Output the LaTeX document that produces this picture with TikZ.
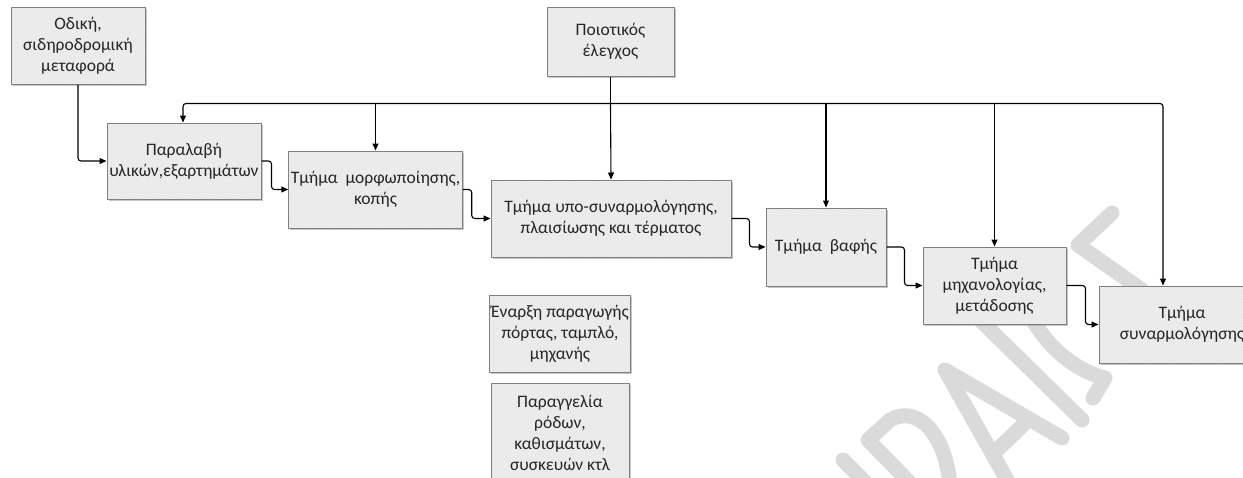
\documentclass[tikz,border=0pt]{standalone}
\usepackage{fontspec}
\setmainfont{Carlito}
\usetikzlibrary{arrows.meta,shadows,patterns}
\definecolor{wmgray}{RGB}{218,218,218}
\definecolor{boxfill}{RGB}{239,239,239}
\definecolor{boxedge}{RGB}{128,128,128}
\definecolor{hatch}{RGB}{228,228,228}
\tikzset{
  box/.style={draw=boxedge, line width=1pt, align=center,
    inner sep=2pt, font=\fontsize{17.5}{21}\selectfont, text=black!85,
    drop shadow={shadow xshift=1.5pt, shadow yshift=-1.5pt, fill=black!45, opacity=0.5},
    preaction={fill=boxfill},
    preaction={pattern=north east lines, pattern color=hatch}},
  conn/.style={draw=black, line width=1.1pt, rounded corners=3pt,
    -{Triangle[length=7pt,width=6pt]}},
  plain/.style={draw=black, line width=1.1pt, rounded corners=3pt},
  wm/.style={draw=wmgray, line width=15pt, line cap=round, line join=round}
}
\begin{document}
\begin{tikzpicture}[x=1pt,y=-1pt]
\useasboundingbox (0,0) rectangle (1243,477);
% watermark strokes
\draw[wm] (1112,213) -- (1078,245) -- (1142,290);
\draw[wm] (1025,305) .. controls (1045,350) and (1080,372) .. (1105,378) -- (1093,398);
\draw[wm] (965,305) -- (1082,420);
\draw[wm] (1010,485) -- (945,370) -- (1062,438);
\draw[wm] (995,452) -- (1023,425);
\draw[wm] (912,485) -- (868,440) -- (890,420) .. controls (915,405) and (945,430) .. (950,485);
\draw[wm] (843,460) -- (868,485);
% boxes
\node[box, minimum width=134pt, minimum height=77pt] (odiki) at (78,45.5) {Οδική,\\σιδηροδρομική\\μεταφορά};
\node[box, minimum width=154pt, minimum height=76pt] (paral) at (184,161) {Παραλαβή\\υλικών,εξαρτημάτων};
\node[box, minimum width=173pt, minimum height=77pt] (morf) at (375.5,189.5) {Τμήμα~ μορφωποίησης,\\κοπής};
\node[box, minimum width=127pt, minimum height=69pt] (poiot) at (610.5,41.5) {Ποιοτικός\\έλεγχος};
\node[box, minimum width=240pt, minimum height=77pt] (ypo) at (611,218.5) {Τμήμα υπο-συναρμολόγησης,\\πλαισίωσης και τέρματος};
\node[box, minimum width=120pt, minimum height=78pt] (vafis) at (826,247) {Τμήμα~ βαφής};
\node[box, minimum width=143pt, minimum height=77pt] (mich) at (994.5,285.5) {Τμήμα\\μηχανολογίας,\\μετάδοσης};
\node[box, minimum width=166pt, minimum height=77pt] (synarm) at (1182,324.5) {Τμήμα\\συναρμολόγησης};
\node[box, minimum width=138pt, minimum height=77pt] (enarxi) at (560,333.5) {Έναρξη παραγωγής\\πόρτας, ταμπλό,\\μηχανής};
\node[box, minimum width=138pt, minimum height=100pt] (parag) at (560,433) {Παραγγελία\\ρόδων,\\καθισμάτων,\\συσκευών κτλ};
% flow connectors
\draw[conn] (odiki.south) |- (paral.west);
\draw[conn] (paral.east) -- ++(10,0) |- (morf.west);
\draw[conn] (morf.east) -- ++(9,0) |- (ypo.west);
\draw[conn] (ypo.east) -- ++(18,0) |- (vafis.west);
\draw[conn] (vafis.east) -- ++(18,0) |- (mich.west);
\draw[conn] (mich.east) -- ++(19,0) |- (synarm.west);
% quality control bus
\path (poiot.south) ++(0,27) coordinate (j);
\coordinate (sa) at ([xshift=-19pt]synarm.north);
\draw[plain] (poiot.south) -- (j);
\draw[conn] (j) -| ([xshift=-1pt]paral.north);
\draw[conn] (j) -| (sa);
\draw[conn] (j) -- (ypo.north);
\draw[conn] (morf.north |- j) -- (morf.north);
\draw[conn] (vafis.north |- j) -- (vafis.north);
\draw[conn] (mich.north |- j) -- (mich.north);
\end{tikzpicture}
\end{document}
